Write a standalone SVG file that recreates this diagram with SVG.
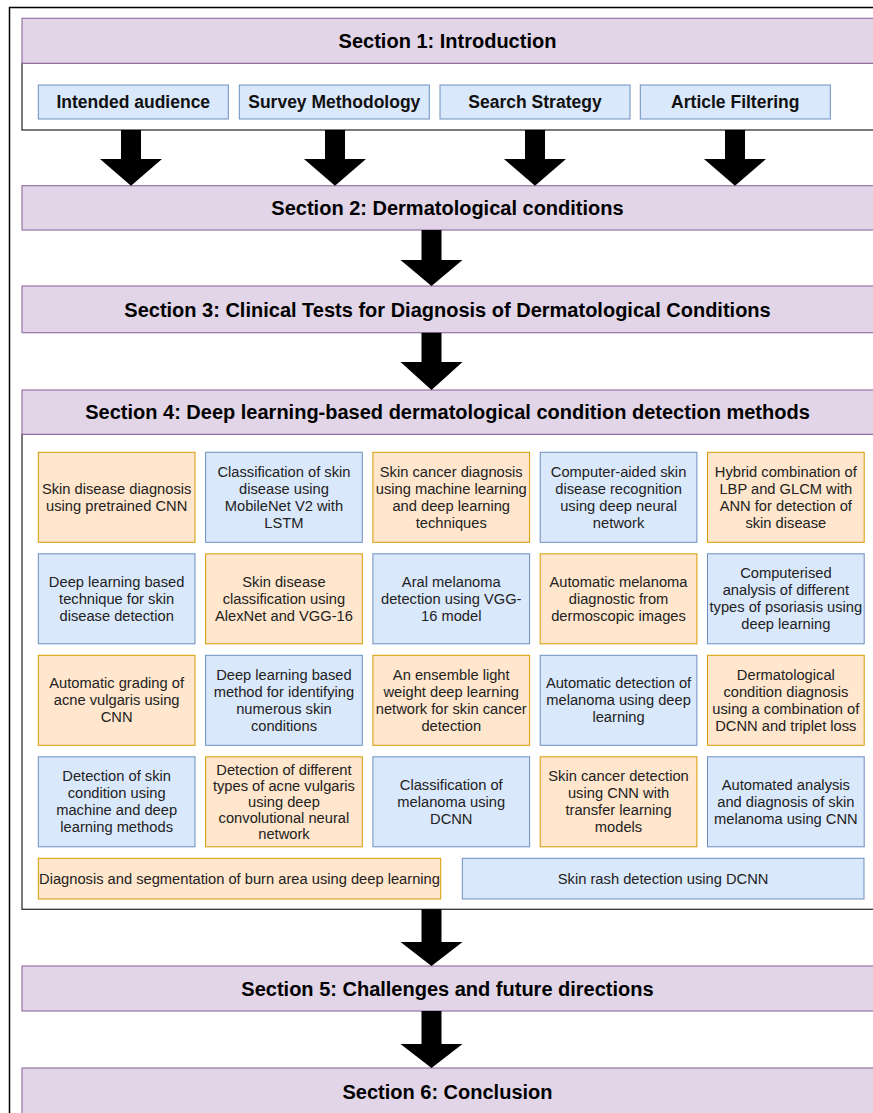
<svg xmlns="http://www.w3.org/2000/svg" width="873" height="1113" viewBox="0 0 873 1113">
<style>
.frame{fill:#ffffff;stroke:#000000;stroke-width:1.5}
.hdr{fill:#e1d5e7;stroke:#9673a6;stroke-width:1.2}
.cont{fill:#ffffff;stroke:#333333;stroke-width:1.3}
.blue{fill:#dae8fc;stroke:#6c8ebf;stroke-width:1}
.orange{fill:#ffe6cc;stroke:#d79b00;stroke-width:1}
.ht{font-family:"Liberation Sans",Arial,sans-serif;font-weight:bold;font-size:20px;fill:#000000;text-anchor:middle}
.st{font-family:"Liberation Sans",Arial,sans-serif;font-weight:bold;font-size:17.5px;fill:#111111;text-anchor:middle}
.ct{font-family:"Liberation Sans",Arial,sans-serif;font-size:14.7px;fill:#222222;text-anchor:middle}
.arr{fill:#000000}
</style>
<rect x="0" y="0" width="873" height="1113" fill="#ffffff"/>
<rect class="frame" x="9.5" y="7.5" width="880" height="1120"/>

<g id="section1">
<rect class="cont" x="22" y="63.3" width="860" height="66.7"/>
<rect class="hdr" x="22" y="18.3" width="860" height="45"/>
<text class="ht" x="447.5" y="47.8">Section 1: Introduction</text>
</g>
<g id="intended-audience"><rect class="blue" x="38.3" y="85" width="190" height="34"/><text class="st" x="133.3" y="108.3">Intended audience</text></g>
<g id="survey-methodology"><rect class="blue" x="239.3" y="85" width="190" height="34"/><text class="st" x="334.3" y="108.3">Survey Methodology</text></g>
<g id="search-strategy"><rect class="blue" x="440" y="85" width="190" height="34"/><text class="st" x="535" y="108.3">Search Strategy</text></g>
<g id="article-filtering"><rect class="blue" x="640.3" y="85" width="190" height="34"/><text class="st" x="735.3" y="108.3">Article Filtering</text></g>

<g id="section2"><rect class="hdr" x="22" y="185.7" width="860" height="44.3"/><text class="ht" x="447.5" y="215">Section 2: Dermatological conditions</text></g>
<g id="section3"><rect class="hdr" x="22" y="286" width="860" height="46.7"/><text class="ht" x="447.5" y="316.5">Section 3: Clinical Tests for Diagnosis of Dermatological Conditions</text></g>

<g id="section4">
<rect class="cont" x="22" y="434.3" width="860" height="475"/>
<rect class="hdr" x="22" y="390" width="860" height="44.3"/>
<text class="ht" x="447.5" y="419">Section 4: Deep learning-based dermatological condition detection methods</text>
</g>

<g id="r1c1"><rect class="orange" x="38.3" y="452.3" width="156.7" height="90"/><text class="ct" x="116.65" y="493.8">Skin disease diagnosis<tspan x="116.65" dy="17">using pretrained CNN</tspan></text></g>
<g id="r1c2"><rect class="blue" x="205.6" y="452.3" width="156.7" height="90"/><text class="ct" x="283.95" y="476.8">Classification of skin<tspan x="283.95" dy="17">disease using</tspan><tspan x="283.95" dy="17">MobileNet V2 with</tspan><tspan x="283.95" dy="17">LSTM</tspan></text></g>
<g id="r1c3"><rect class="orange" x="372.9" y="452.3" width="156.7" height="90"/><text class="ct" x="451.25" y="476.8">Skin cancer diagnosis<tspan x="451.25" dy="17">using machine learning</tspan><tspan x="451.25" dy="17">and deep learning</tspan><tspan x="451.25" dy="17">techniques</tspan></text></g>
<g id="r1c4"><rect class="blue" x="540.2" y="452.3" width="156.7" height="90"/><text class="ct" x="618.55" y="476.8">Computer-aided skin<tspan x="618.55" dy="17">disease recognition</tspan><tspan x="618.55" dy="17">using deep neural</tspan><tspan x="618.55" dy="17">network</tspan></text></g>
<g id="r1c5"><rect class="orange" x="707.5" y="452.3" width="156.7" height="90"/><text class="ct" x="785.85" y="476.8">Hybrid combination of<tspan x="785.85" dy="17">LBP and GLCM with</tspan><tspan x="785.85" dy="17">ANN for detection of</tspan><tspan x="785.85" dy="17">skin disease</tspan></text></g>

<g id="r2c1"><rect class="blue" x="38.3" y="553.8" width="156.7" height="90"/><text class="ct" x="116.65" y="586.8">Deep learning based<tspan x="116.65" dy="17">technique for skin</tspan><tspan x="116.65" dy="17">disease detection</tspan></text></g>
<g id="r2c2"><rect class="orange" x="205.6" y="553.8" width="156.7" height="90"/><text class="ct" x="283.95" y="586.8">Skin disease<tspan x="283.95" dy="17">classification using</tspan><tspan x="283.95" dy="17">AlexNet and VGG-16</tspan></text></g>
<g id="r2c3"><rect class="blue" x="372.9" y="553.8" width="156.7" height="90"/><text class="ct" x="451.25" y="586.8">Aral melanoma<tspan x="451.25" dy="17">detection using VGG-</tspan><tspan x="451.25" dy="17">16 model</tspan></text></g>
<g id="r2c4"><rect class="orange" x="540.2" y="553.8" width="156.7" height="90"/><text class="ct" x="618.55" y="586.8">Automatic melanoma<tspan x="618.55" dy="17">diagnostic from</tspan><tspan x="618.55" dy="17">dermoscopic images</tspan></text></g>
<g id="r2c5"><rect class="blue" x="707.5" y="553.8" width="156.7" height="90"/><text class="ct" x="785.85" y="578.3">Computerised<tspan x="785.85" dy="17">analysis of different</tspan><tspan x="785.85" dy="17">types of psoriasis using</tspan><tspan x="785.85" dy="17">deep learning</tspan></text></g>

<g id="r3c1"><rect class="orange" x="38.3" y="655.3" width="156.7" height="90"/><text class="ct" x="116.65" y="688.3">Automatic grading of<tspan x="116.65" dy="17">acne vulgaris using</tspan><tspan x="116.65" dy="17">CNN</tspan></text></g>
<g id="r3c2"><rect class="blue" x="205.6" y="655.3" width="156.7" height="90"/><text class="ct" x="283.95" y="679.8">Deep learning based<tspan x="283.95" dy="17">method for identifying</tspan><tspan x="283.95" dy="17">numerous skin</tspan><tspan x="283.95" dy="17">conditions</tspan></text></g>
<g id="r3c3"><rect class="orange" x="372.9" y="655.3" width="156.7" height="90"/><text class="ct" x="451.25" y="679.8">An ensemble light<tspan x="451.25" dy="17">weight deep learning</tspan><tspan x="451.25" dy="17">network for skin cancer</tspan><tspan x="451.25" dy="17">detection</tspan></text></g>
<g id="r3c4"><rect class="blue" x="540.2" y="655.3" width="156.7" height="90"/><text class="ct" x="618.55" y="688.3">Automatic detection of<tspan x="618.55" dy="17">melanoma using deep</tspan><tspan x="618.55" dy="17">learning</tspan></text></g>
<g id="r3c5"><rect class="orange" x="707.5" y="655.3" width="156.7" height="90"/><text class="ct" x="785.85" y="679.8">Dermatological<tspan x="785.85" dy="17">condition diagnosis</tspan><tspan x="785.85" dy="17">using a combination of</tspan><tspan x="785.85" dy="17">DCNN and triplet loss</tspan></text></g>

<g id="r4c1"><rect class="blue" x="38.3" y="756.8" width="156.7" height="90"/><text class="ct" x="116.65" y="781.3">Detection of skin<tspan x="116.65" dy="17">condition using</tspan><tspan x="116.65" dy="17">machine and deep</tspan><tspan x="116.65" dy="17">learning methods</tspan></text></g>
<g id="r4c2"><rect class="orange" x="205.6" y="756.8" width="156.7" height="90"/><text class="ct" x="283.95" y="774.8">Detection of different<tspan x="283.95" dy="16">types of acne vulgaris</tspan><tspan x="283.95" dy="16">using deep</tspan><tspan x="283.95" dy="16">convolutional neural</tspan><tspan x="283.95" dy="16">network</tspan></text></g>
<g id="r4c3"><rect class="blue" x="372.9" y="756.8" width="156.7" height="90"/><text class="ct" x="451.25" y="789.8">Classification of<tspan x="451.25" dy="17">melanoma using</tspan><tspan x="451.25" dy="17">DCNN</tspan></text></g>
<g id="r4c4"><rect class="orange" x="540.2" y="756.8" width="156.7" height="90"/><text class="ct" x="618.55" y="781.3">Skin cancer detection<tspan x="618.55" dy="17">using CNN with</tspan><tspan x="618.55" dy="17">transfer learning</tspan><tspan x="618.55" dy="17">models</tspan></text></g>
<g id="r4c5"><rect class="blue" x="707.5" y="756.8" width="156.7" height="90"/><text class="ct" x="785.85" y="789.8">Automated analysis<tspan x="785.85" dy="17">and diagnosis of skin</tspan><tspan x="785.85" dy="17">melanoma using CNN</tspan></text></g>

<g id="r5c1"><rect class="orange" x="38.3" y="858.3" width="402.4" height="40.7"/><text class="ct" x="239.5" y="883.6">Diagnosis and segmentation of burn area using deep learning</text></g>
<g id="r5c2"><rect class="blue" x="462.3" y="858.3" width="401.7" height="40.7"/><text class="ct" x="663.15" y="883.6">Skin rash detection using DCNN</text></g>

<g id="section5"><rect class="hdr" x="22" y="966" width="860" height="45"/><text class="ht" x="447.5" y="995.5">Section 5: Challenges and future directions</text></g>
<g id="section6"><rect class="hdr" x="22" y="1068" width="860" height="46"/><text class="ht" x="447.5" y="1098.5">Section 6: Conclusion</text></g>

<g id="connectors">
<polygon class="arr" points="121,130 141,130 141,159 162,159 131,185.7 100,159 121,159"/>
<polygon class="arr" points="325,130 345,130 345,159 366,159 335,185.7 304,159 325,159"/>
<polygon class="arr" points="525,130 545,130 545,159 566,159 535,185.7 504,159 525,159"/>
<polygon class="arr" points="725,130 745,130 745,159 766,159 735,185.7 704,159 725,159"/>
<polygon class="arr" points="421.5,230 441.5,230 441.5,260 462.5,260 431.5,286 400.5,260 421.5,260"/>
<polygon class="arr" points="421.5,332.7 441.5,332.7 441.5,362 462.5,362 431.5,390 400.5,362 421.5,362"/>
<polygon class="arr" points="421.5,909.3 441.5,909.3 441.5,942 462.5,942 431.5,966 400.5,942 421.5,942"/>
<polygon class="arr" points="421.5,1011 441.5,1011 441.5,1044 462.5,1044 431.5,1068 400.5,1044 421.5,1044"/>
</g>
</svg>
